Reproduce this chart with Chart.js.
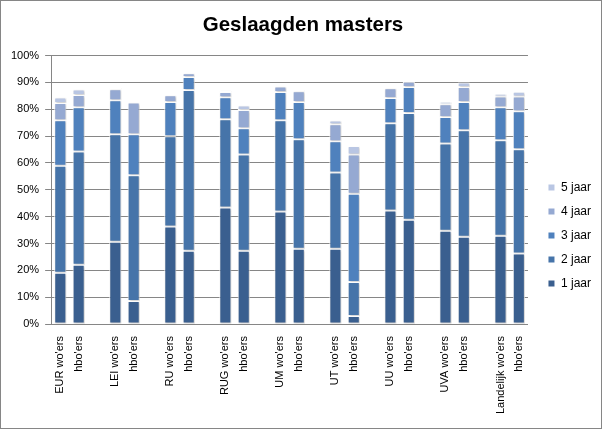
<!DOCTYPE html>
<html>
<head>
<meta charset="utf-8">
<script src="https://cdn.jsdelivr.net/npm/chart.js@4/dist/chart.umd.min.js"></script>
<style>
  html, body { margin: 0; padding: 0; background: #fff; }
  #wrap { width: 600px; height: 427px; border: 1px solid #868686; }
</style>
</head>
<body>
<div id="wrap"><canvas id="chart" width="600" height="427"></canvas></div>
<script>
// categories (empty strings are the gaps between universities)
const labels = [
  "EUR wo'ers", "hbo'ers", "",
  "LEI wo'ers", "hbo'ers", "",
  "RU wo'ers", "hbo'ers", "",
  "RUG wo'ers", "hbo'ers", "",
  "UM wo'ers", "hbo'ers", "",
  "UT wo'ers", "hbo'ers", "",
  "UU wo'ers", "hbo'ers", "",
  "UVA wo'ers", "hbo'ers", "",
  "Landelijk wo'ers", "hbo'ers"
];

// percentages per study duration (stacked)
const jaar1 = [19.1, 22.1, null, 30.7, 8.6, null, 36.3, 27.3, null, 43.4, 27.3, null, 41.9, 28.1, null, 28.1, 3.0, null, 42.3, 38.9, null, 34.8, 32.5, null, 32.9, 26.3];
const jaar2 = [39.9, 42.2, null, 40.0, 46.8, null, 33.7, 59.9, null, 32.9, 35.9, null, 34.0, 40.7, null, 28.4, 12.7, null, 32.5, 39.7, null, 32.5, 39.7, null, 35.6, 38.8];
const jaar3 = [16.9, 16.5, null, 12.7, 15.3, null, 12.7, 4.8, null, 8.2, 9.7, null, 10.5, 13.9, null, 11.6, 32.8, null, 9.4, 9.7, null, 9.8, 10.5, null, 12.3, 14.2];
const jaar4 = [6.4, 4.5, null, 4.1, 11.8, null, 2.5, 1.4, null, 1.9, 6.8, null, 2.1, 4.0, null, 6.3, 14.7, null, 3.6, 2.0, null, 4.8, 5.6, null, 4.0, 5.5];
const jaar5 = [2.1, 2.1, null, 0.5, null, null, null, null, null, 0.6, 1.7, null, null, 0.6, null, 1.4, 3.1, null, null, null, null, 0.9, 1.7, null, 1.0, 1.7];

const seriesNames = ['1 jaar', '2 jaar', '3 jaar', '4 jaar', '5 jaar'];
const seriesColors = ['#3a5f8f', '#4674a9', '#4f81bd', '#95a9d2', '#b9c6e3'];

const tickFont = { family: 'Liberation Sans', size: 11 };

const datasets = [jaar1, jaar2, jaar3, jaar4, jaar5].map((data, i) => ({
  label: seriesNames[i],
  data: data,
  backgroundColor: seriesColors[i],
  borderColor: '#ffffff',
  borderWidth: 1,
  borderSkipped: false,
  categoryPercentage: 1.0,
  barPercentage: 0.66
}));

// leave a gap between plot area and legend, and drop the legend a bit (like Excel)
const legendGap = 8;
const legendDrop = 26;
const legendTweak = {
  id: 'legendTweak',
  beforeLayout(chart) {
    const lg = chart.legend;
    if (lg && !lg._wrapped) {
      const fit = lg.fit;
      lg.fit = function () { fit.call(this); this.width += legendGap; };
      lg._wrapped = true;
    }
  },
  afterLayout(chart) {
    const lg = chart.legend;
    if (!lg) return;
    lg.left += legendGap;
    lg.top += legendDrop;
    lg.bottom += legendDrop;
  }
};

// soft shadow behind the bars
const barShadow = {
  id: 'barShadow',
  beforeDatasetsDraw(chart) {
    const ctx = chart.ctx;
    ctx.save();
    ctx.shadowColor = 'rgba(0,0,0,0.22)';
    ctx.shadowBlur = 2;
    ctx.shadowOffsetX = 1;
    ctx.shadowOffsetY = 1;
  },
  afterDatasetsDraw(chart) {
    chart.ctx.restore();
  }
};

new Chart(document.getElementById('chart'), {
  type: 'bar',
  data: { labels: labels, datasets: datasets },
  plugins: [legendTweak, barShadow],
  options: {
    responsive: false,
    animation: false,
    layout: { padding: { left: 4, right: 0, bottom: 10 } },
    plugins: {
      title: {
        display: true,
        text: 'Geslaagden masters',
        color: '#000',
        font: { family: 'Liberation Sans', size: 20.5, weight: 'bold' },
        padding: { top: 12, bottom: 18 }
      },
      legend: {
        position: 'right',
        reverse: true,
        labels: {
          boxWidth: 7,
          boxHeight: 7,
          padding: 12,
          color: '#000',
          font: { family: 'Liberation Sans', size: 12 }
        }
      },
      tooltip: { enabled: false }
    },
    scales: {
      x: {
        stacked: true,
        grid: { display: false },
        border: { display: true, color: '#868686' },
        ticks: {
          autoSkip: false,
          maxRotation: 90,
          minRotation: 90,
          color: '#000',
          font: tickFont,
          padding: 4
        }
      },
      y: {
        stacked: true,
        min: 0,
        max: 100,
        grid: { color: '#868686', tickLength: 6 },
        border: { display: true, color: '#868686' },
        ticks: {
          stepSize: 10,
          color: '#000',
          font: tickFont,
          padding: 6,
          callback: v => v + '%'
        }
      }
    }
  }
});
</script>
</body>
</html>
